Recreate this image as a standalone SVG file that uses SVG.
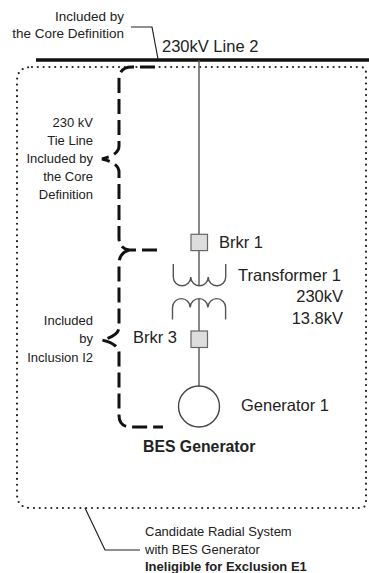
<svg xmlns="http://www.w3.org/2000/svg" width="369" height="573" viewBox="0 0 369 573">
<style>
text{font-family:"Liberation Sans",Arial,sans-serif;fill:#222}
.s{font-size:13px}
.l{font-size:16.5px}
.r{text-anchor:end}
.b{font-weight:bold}
.brace{fill:none;stroke:#111;stroke-width:3;stroke-dasharray:15 6}
.lead{fill:none;stroke:#222;stroke-width:1.2}
.wire{fill:none;stroke:#555;stroke-width:1.4}
.brk{fill:#ddd;stroke:#666;stroke-width:1.2}
</style>
<rect width="369" height="573" fill="#fff"/>
<g id="boundary">
<path d="M32,67 L360,67 Q366,67 366,73 L366,502 Q366,508 360,508 L31,508 Q17,508 17,494 L17,81 Q17,67 32,67 Z" fill="none" stroke="#222" stroke-width="2.2" stroke-dasharray="0 5.8" stroke-linecap="round"/>
</g>
<g id="bus">
<line x1="36" y1="60" x2="369" y2="60" stroke="#111" stroke-width="3.5"/>
<text class="l" x="162" y="52">230kV Line 2</text>
</g>
<g id="connectors">
<line class="wire" x1="199" y1="60" x2="199" y2="234"/>
<line class="wire" x1="199" y1="250.5" x2="199" y2="285"/>
<line class="wire" x1="199" y1="299" x2="199" y2="331"/>
<line class="wire" x1="199" y1="347.5" x2="199" y2="386"/>
<polyline class="lead" points="131,27 152,27 158,59"/>
<polyline class="lead" points="85,508 105,550 140,550"/>
<path class="brace" d="M155,67 L132,67 Q119,67 119,80 L119,146 Q119,155 102,159 Q119,163 119,172 L119,238 Q119,248 129,250 L160,250"/>
<path class="brace" d="M129,250 Q119,253 119,264 L119,327 Q119,336 102,340 Q119,344 119,353 L119,415 Q119,427 131,427 L163,427"/>
</g>
<g id="label-core">
<text class="s r" x="124" y="21" style="font-size:13.5px">Included by</text>
<text class="s r" x="124" y="38" style="font-size:13.5px">the Core Definition</text>
</g>
<g id="label-tie">
<text class="s r" x="93" y="127">230 kV</text>
<text class="s r" x="93" y="145">Tie Line</text>
<text class="s r" x="93" y="163">Included by</text>
<text class="s r" x="93" y="181">the Core</text>
<text class="s r" x="93" y="199">Definition</text>
</g>
<g id="brkr1">
<rect class="brk" x="191" y="234.3" width="16.5" height="16.3"/>
<text class="l" x="219" y="248">Brkr 1</text>
</g>
<g id="transformer1">
<path class="wire" d="M173.3,264 L173.3,277 A8.7,8.7 0 0 0 190.8,277 A8.7,8.7 0 0 0 208.2,277 A8.7,8.7 0 0 0 225.7,277 L225.7,264"/>
<path class="wire" d="M172.5,319.5 L172.5,307.5 A8.8,8.8 0 0 1 190.2,307.5 A8.8,8.8 0 0 1 207.9,307.5 A8.8,8.8 0 0 1 225.6,307.5 L225.6,319.5"/>
<text class="l" x="238" y="281">Transformer 1</text>
<text class="l r" x="343" y="302">230kV</text>
<text class="l r" x="343" y="324">13.8kV</text>
</g>
<g id="label-i2">
<text class="s r" x="93" y="325">Included</text>
<text class="s r" x="93" y="343">by</text>
<text class="s r" x="93" y="361.5">Inclusion I2</text>
</g>
<g id="brkr3">
<rect class="brk" x="191" y="331" width="16.5" height="16.5"/>
<text class="l" x="133" y="343">Brkr 3</text>
</g>
<g id="generator1">
<circle cx="199" cy="406.5" r="20.5" fill="#fff" stroke="#444" stroke-width="1.4"/>
<text class="l" x="241" y="411">Generator 1</text>
<text class="b" x="143" y="452" style="font-size:15.8px">BES Generator</text>
</g>
<g id="label-radial">
<text class="s" x="145" y="536">Candidate Radial System</text>
<text class="s" x="145" y="554">with BES Generator</text>
<text class="s b" x="145" y="571">Ineligible for Exclusion E1</text>
</g>
</svg>
